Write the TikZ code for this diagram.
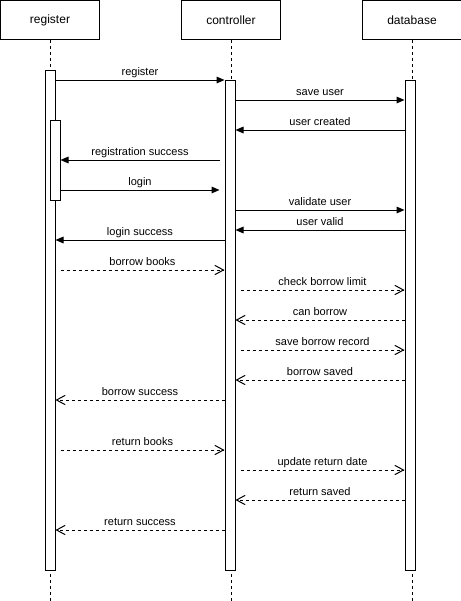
\documentclass[tikz,border=0pt]{standalone}
\usepackage{fontspec}
\setsansfont{Liberation Sans}
\tikzset{every picture/.style={/utils/exec={\sffamily}}}
\usetikzlibrary{calc}
\usetikzlibrary{positioning}
\usetikzlibrary{arrows.meta}

\begin{document}
\begin{tikzpicture}[x=0.75pt, y=-0.75pt, line width=0.75pt,
    head/.style={draw, minimum width=74.25pt, minimum height=29.25pt, font=\fontsize{9}{11}\selectfont},
    life/.style={dash pattern=on 2.25pt off 2.25pt},
    bar/.style={draw, fill=white, minimum width=7.5pt, inner sep=0, anchor=north},
    call/.style={-{Triangle[length=6pt,width=5pt]}},
    reply/.style={dash pattern=on 2.25pt off 2.25pt, -{Straight Barb[length=6.5pt,width=7pt]}},
    msg/.style={above, inner sep=0.9pt, text depth=2pt, font=\fontsize{8.25}{10}\selectfont}]
  \useasboundingbox (0,0) rectangle (461,601);

    % lifeline heads
    \node [head] (reg) at (50,20) {register};
    \node [head, right=60.75pt of reg] (ctl) {controller};
    \node [head, right=60.75pt of ctl] (db) {database};

    \coordinate (regend) at (reg.south |- 0,601);
    \coordinate (ctlend) at (ctl.south |- 0,601);
    \coordinate (dbend) at (db.south |- 0,601);
    \draw [life] (reg.south) -- (regend);
    \draw [life] (ctl.south) -- (ctlend);
    \draw [life] (db.south) -- (dbend);

    % activations
    \node [bar, minimum height=375pt] (regbar) at (50,70) {};
    \node [bar, minimum height=367.5pt] (ctlbar) at (230,80) {};
    \node [bar, minimum height=367.5pt] (dbbar) at (410,80) {};
    \node [bar, minimum height=60pt] (regact) at (55,120) {};

    % messages
    \draw [call] (regbar.east |- 0,80) -- node[msg] {register} (ctlbar.west |- 0,80);
    \draw [call] (ctlbar.east |- 0,100) -- node[msg] {save user} (dbbar.west |- 0,100);
    \draw [call] (dbbar.west |- 0,130) -- node[msg] {user created} (ctlbar.east |- 0,130);
    \draw [call] ($(ctlbar.west |- 0,160)+(-5,0)$) -- node[msg] {registration success} (regact.east |- 0,160);
    \draw [call] (regact.east |- 0,190) -- node[msg] {login} ($(ctlbar.west |- 0,190)+(-5,0)$);
    \draw [call] (ctlbar.east |- 0,210) -- node[msg] {validate user} (dbbar.west |- 0,210);
    \draw [call] (dbbar.west |- 0,230) -- node[msg] {user valid} (ctlbar.east |- 0,230);
    \draw [call] (ctlbar.west |- 0,240) -- node[msg] {login success} (regbar.east |- 0,240);

    \draw [reply] ($(regbar.east |- 0,270)+(5,0)$) -- node[msg] {borrow books} (ctlbar.west |- 0,270);
    \draw [reply] ($(ctlbar.east |- 0,290)+(5,0)$) -- node[msg] {check borrow limit} (dbbar.west |- 0,290);
    \draw [reply] (dbbar.west |- 0,320) -- node[msg] {can borrow} (ctlbar.east |- 0,320);
    \draw [reply] ($(ctlbar.east |- 0,350)+(5,0)$) -- node[msg] {save borrow record} (dbbar.west |- 0,350);
    \draw [reply] (dbbar.west |- 0,380) -- node[msg] {borrow saved} (ctlbar.east |- 0,380);
    \draw [reply] (ctlbar.west |- 0,400) -- node[msg] {borrow success} (regbar.east |- 0,400);

    \draw [reply] ($(regbar.east |- 0,450)+(5,0)$) -- node[msg] {return books} (ctlbar.west |- 0,450);
    \draw [reply] ($(ctlbar.east |- 0,470)+(5,0)$) -- node[msg] {update return date} (dbbar.west |- 0,470);
    \draw [reply] (dbbar.west |- 0,500) -- node[msg] {return saved} (ctlbar.east |- 0,500);
    \draw [reply] (ctlbar.west |- 0,530) -- node[msg] {return success} (regbar.east |- 0,530);
\end{tikzpicture}
\end{document}
